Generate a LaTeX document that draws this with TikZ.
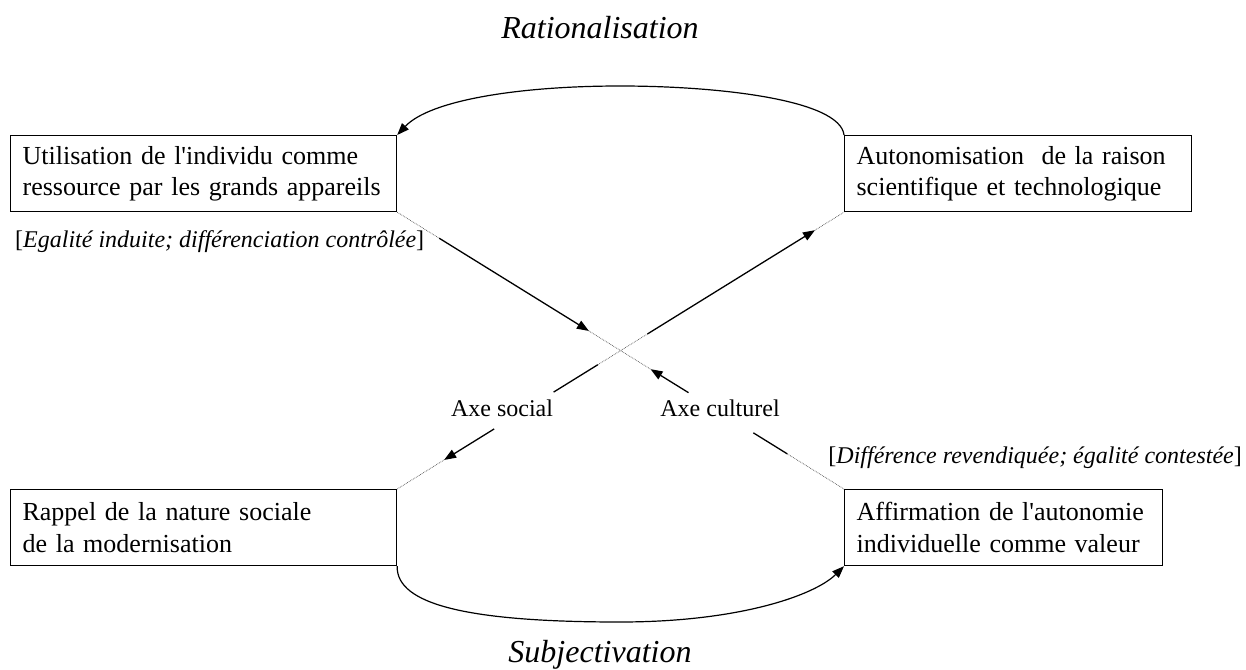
\documentclass[tikz,border=0pt]{standalone}
\usepackage{fontspec}
\setmainfont{Liberation Serif}[Ligatures=TeXOff]
\usetikzlibrary{arrows.meta,calc}
\begin{document}
\begin{tikzpicture}[x=1pt,y=-1pt,
  box/.style={draw,line width=1.2pt,rectangle,anchor=north west,inner xsep=12pt,inner ysep=0pt,
    align=left,font=\fontsize{26}{31.5}\selectfont,minimum height=76pt},
  lab/.style={inner sep=0pt,font=\fontsize{24}{28}\selectfont},
  ttl/.style={inner sep=0pt,font=\fontsize{32}{38}\selectfont\itshape},
  dotline/.style={densely dotted,line width=0.7pt,black!70},
  solidline/.style={line width=1.3pt},
  solidarrow/.style={line width=1.3pt,-{Triangle[length=12pt,width=9pt]}},
  arc/.style={line width=1.2pt,-{Triangle[length=12pt,width=9pt]}}
]
\useasboundingbox (0,0) rectangle (1246,669);

\node[box,text width=362pt] (A) at (10,135) {Utilisation de l\textquotesingle individu comme\\ressource par les grands appareils};
\node[box,text width=323pt] (B) at (844,135) {Autonomisation~ de la raison\\scientifique et technologique};
\node[box,text width=362pt] (C) at (10,489) {Rappel de la nature sociale\\de la modernisation};
\node[box,text width=294pt] (D) at (844,489) {Affirmation de l\textquotesingle autonomie\\individuelle comme valeur};

\node[ttl,anchor=base] (rat) at (600,38) {Rationalisation};
\node[ttl,anchor=base] (sub) at (600,662) {Subjectivation};

\node[lab,anchor=base west] (eg) at (15,247) {[\textit{Egalité induite; différenciation contrôlée}]};
\node[lab,anchor=base east] (di) at (1242,463) {[\textit{Différence revendiquée; égalité contestée}]};
\node[lab,anchor=base] (as) at (502,416) {Axe social};
\node[lab,anchor=base] (ac) at (720,416) {Axe culturel};

% diagonal A -> D
\coordinate (a1) at ($(A.south east)!0.094!(D.north west)$);
\coordinate (a2) at ($(A.south east)!0.429!(D.north west)$);
\coordinate (a3) at ($(A.south east)!0.567!(D.north west)$);
\coordinate (a4) at ($(A.south east)!0.652!(D.north west)$);
\coordinate (a5) at ($(A.south east)!0.797!(D.north west)$);
\coordinate (a6) at ($(A.south east)!0.873!(D.north west)$);
\draw[dotline] (A.south east) -- (a1);
\draw[solidarrow] (a1) -- (a2);
\draw[dotline] (a2) -- (a3);
\draw[solidarrow] (a4) -- (a3);
\draw[solidline] (a5) -- (a6);
\draw[dotline] (a6) -- (D.north west);

% diagonal C -> B
\coordinate (b1) at ($(C.north east)!0.105!(B.south west)$);
\coordinate (b2) at ($(C.north east)!0.217!(B.south west)$);
\coordinate (b3) at ($(C.north east)!0.350!(B.south west)$);
\coordinate (b4) at ($(C.north east)!0.449!(B.south west)$);
\coordinate (b5) at ($(C.north east)!0.560!(B.south west)$);
\coordinate (b6) at ($(C.north east)!0.935!(B.south west)$);
\draw[dotline] (C.north east) -- (b1);
\draw[solidarrow] (b2) -- (b1);
\draw[solidline] (b3) -- (b4);
\draw[dotline] (b4) -- (b5);
\draw[solidarrow] (b5) -- (b6);
\draw[dotline] (b6) -- (B.south west);

% arcs
\coordinate (top) at (620,86);
\coordinate (bot) at (620,622);
\draw[arc] (B.north west) .. controls (840,100) and (720,86) .. (top) .. controls (520,86) and (430,100) .. (A.north east);
\draw[arc] (C.south east) .. controls (396,605) and (470,622) .. (bot) .. controls (740,622) and (815,595) .. (D.south west);
\end{tikzpicture}
\end{document}
